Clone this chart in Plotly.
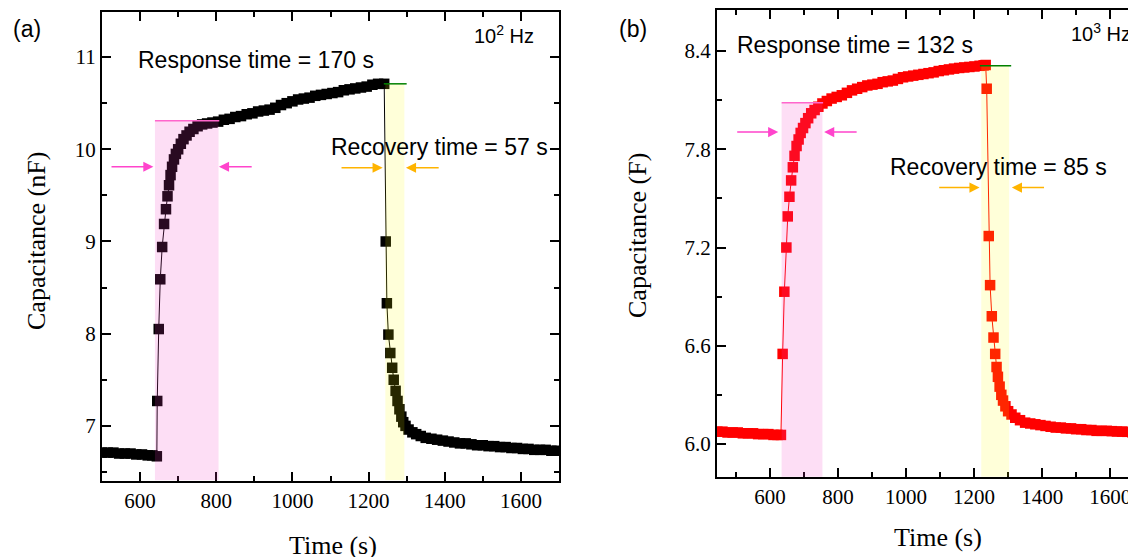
import plotly.graph_objects as go

# ---------------- data: panel (a), 10^2 Hz ----------------
t_a = [500, 515, 530, 545, 560, 575, 590, 605, 620, 632, 644,
       645, 649, 653, 658, 663, 668, 672, 676, 680, 684, 689, 694, 700, 707, 714, 722, 730, 740, 751, 763, 776, 790, 805,
       820, 835, 850, 865, 880, 895, 910, 925, 940, 955, 970, 985, 1000, 1015, 1030, 1045, 1060, 1075, 1090, 1105,
       1120, 1135, 1150, 1165, 1180, 1195, 1210, 1225, 1241,
       1245, 1248, 1252, 1257, 1262, 1266, 1271, 1276, 1281, 1286, 1291, 1297, 1305, 1315, 1325, 1337,
       1350, 1365, 1380, 1395, 1410, 1425, 1440, 1455, 1470, 1485, 1500, 1515, 1530, 1545, 1560, 1575,
       1590, 1605, 1620, 1635, 1650, 1665, 1680, 1695]
c_a = [6.71, 6.71, 6.71, 6.70, 6.70, 6.70, 6.69, 6.69, 6.68, 6.68, 6.67,
       7.27, 8.05, 8.59, 8.94, 9.19, 9.35, 9.49, 9.61, 9.72, 9.81, 9.89, 9.95, 10.00, 10.06, 10.11, 10.15, 10.19, 10.22, 10.25, 10.27, 10.28, 10.29, 10.30,
       10.32, 10.33, 10.35, 10.36, 10.38, 10.39, 10.41, 10.42, 10.43, 10.45, 10.48, 10.50, 10.52, 10.54, 10.55, 10.56, 10.58, 10.59, 10.60, 10.61,
       10.62, 10.64, 10.65, 10.66, 10.67, 10.68, 10.70, 10.71, 10.71,
       9.00, 8.33, 7.99, 7.79, 7.63, 7.50, 7.38, 7.27, 7.18, 7.10, 7.04, 7.00, 6.96, 6.93, 6.91, 6.89,
       6.87, 6.86, 6.85, 6.84, 6.83, 6.82, 6.81, 6.81, 6.80, 6.79, 6.79, 6.78, 6.78, 6.77, 6.77, 6.76,
       6.76, 6.75, 6.75, 6.74, 6.74, 6.74, 6.73, 6.73]

# ---------------- data: panel (b), 10^3 Hz ----------------
t_b = [445, 460, 475, 490, 505, 520, 535, 550, 565, 580, 595, 610, 622, 632,
       637, 642, 648, 652, 657, 662, 667, 672, 678, 684, 690, 697, 704, 712, 721, 731, 742, 754, 767, 781, 796, 811,
       826, 841, 856, 871, 886, 901, 916, 931, 946, 961, 976, 991, 1006, 1021, 1036, 1051, 1066, 1081, 1096, 1111,
       1126, 1141, 1156, 1171, 1186, 1201, 1216, 1228, 1234,
       1237, 1243, 1247, 1252, 1257, 1262, 1266, 1270, 1275, 1280, 1285, 1292, 1300, 1310, 1321, 1335,
       1350, 1365, 1380, 1395, 1410, 1425, 1440, 1455, 1470, 1485, 1500, 1515, 1530, 1545, 1560, 1575,
       1590, 1605, 1620, 1635, 1650, 1665, 1680]
c_b = [6.075, 6.075, 6.07, 6.07, 6.07, 6.065, 6.065, 6.065, 6.06, 6.06, 6.06, 6.055, 6.055, 6.055,
       6.55, 6.93, 7.20, 7.39, 7.51, 7.61, 7.69, 7.76, 7.82, 7.86, 7.90, 7.93, 7.96, 7.99, 8.02, 8.04, 8.06, 8.08, 8.095, 8.11, 8.12, 8.13,
       8.145, 8.16, 8.17, 8.18, 8.19, 8.195, 8.20, 8.21, 8.215, 8.22, 8.23, 8.24, 8.245, 8.25, 8.255, 8.26, 8.265, 8.27, 8.278, 8.283,
       8.288, 8.293, 8.297, 8.30, 8.303, 8.306, 8.31, 8.313, 8.315,
       8.17, 7.27, 6.97, 6.78, 6.65, 6.55, 6.47, 6.41, 6.35, 6.30, 6.265, 6.23, 6.20, 6.18, 6.16, 6.145,
       6.13, 6.125, 6.12, 6.115, 6.11, 6.105, 6.10, 6.10, 6.095, 6.095, 6.09, 6.09, 6.085, 6.085, 6.08, 6.08,
       6.08, 6.078, 6.076, 6.075, 6.074, 6.072, 6.07]

# response / recovery windows  [start, end, top level]
resp_a = [639, 806, 10.31]
reco_a = [1244, 1294, 10.71]
resp_b = [634, 754, 8.084]
reco_b = [1221, 1303, 8.31]

OFF = 8  # page body margin
W, H = 1136 - OFF, 557 - OFF
def px(x):
    return (x - OFF) / W
def py(y):
    return 1 - (y - OFF) / H

SERIF = "Liberation Serif, Times New Roman, serif"
SANS = "Liberation Sans, Arial, sans-serif"

fig = go.Figure()
fig.add_trace(go.Scatter(x=t_a, y=c_a, mode="lines+markers",
                         line=dict(color="black", width=1),
                         marker=dict(symbol="square", size=10.5, color="black"),
                         xaxis="x", yaxis="y"))
fig.add_trace(go.Scatter(x=t_b, y=c_b, mode="lines+markers",
                         line=dict(color="#ff0000", width=1),
                         marker=dict(symbol="square", size=10.5, color="#ff0000"),
                         xaxis="x2", yaxis="y2"))

axis_common = dict(showline=True, linewidth=2, linecolor="black", ticks="inside",
                   ticklen=9, tickwidth=1.5, tickcolor="black", showgrid=False, zeroline=False,
                   tickfont=dict(family=SERIF, size=21, color="black"))

fig.update_layout(
    width=W, height=H, margin=dict(l=0, r=0, t=0, b=0),
    paper_bgcolor="white", plot_bgcolor="white", showlegend=False,
    xaxis=dict(domain=[px(102), px(559)], range=[500, 1700], dtick=200, tick0=0, mirror="ticks",
               minor=dict(dtick=100, ticklen=5, tickwidth=1.5, ticks="inside", tickcolor="black"),
               anchor="y", **axis_common),
    yaxis=dict(domain=[py(481), py(12)], range=[6.402, 11.489], dtick=1, tick0=0, mirror="ticks",
               minor=dict(dtick=0.5, ticklen=5, tickwidth=1.5, ticks="inside", tickcolor="black"),
               anchor="x", **axis_common),
    xaxis2=dict(domain=[px(717), 1.0], range=[444, 1676], dtick=200, tick0=0, mirror="ticks",
                minor=dict(dtick=100, ticklen=5, tickwidth=1.5, ticks="inside", tickcolor="black"),
                anchor="y2", **axis_common),
    yaxis2=dict(domain=[py(477), py(10)], range=[5.798, 8.651], dtick=0.6, tick0=6.0, tickformat=".1f",
                minor=dict(dtick=0.3, ticklen=5, tickwidth=1.5, ticks="inside", tickcolor="black"),
                anchor="x2", **axis_common),
)

shapes = []
def windows(resp, reco, xr, yr, ybot):
    shapes.append(dict(type="rect", xref=xr, yref=yr, x0=resp[0], x1=resp[1], y0=ybot, y1=resp[2],
                       fillcolor="rgb(243,62,194)", opacity=0.17, line=dict(width=0), layer="above"))
    shapes.append(dict(type="rect", xref=xr, yref=yr, x0=reco[0], x1=reco[1], y0=ybot, y1=reco[2],
                       fillcolor="rgb(255,255,0)", opacity=0.15, line=dict(width=0), layer="above"))
    shapes.append(dict(type="line", xref=xr, yref=yr, x0=resp[0], x1=resp[1] + 2, y0=resp[2], y1=resp[2],
                       line=dict(color="#ff66cc", width=1.5), layer="above"))
    shapes.append(dict(type="line", xref=xr, yref=yr, x0=reco[0] - 4, x1=reco[1] + 6, y0=reco[2], y1=reco[2],
                       line=dict(color="#008000", width=1.5), layer="above"))

windows(resp_a, reco_a, "x", "y", 6.41)
windows(resp_b, reco_b, "x2", "y2", 5.80)
fig.update_layout(shapes=shapes)

ann = []
def arrow(xr, yr, tip, tail, y, color):
    ann.append(dict(xref=xr, yref=yr, axref=xr, ayref=yr, x=tip, y=y, ax=tail, ay=y, text="",
                    showarrow=True, arrowhead=2, arrowsize=1.35, arrowwidth=1.5, arrowcolor=color, standoff=0))

# panel (a) arrows
arrow("x", "y", 635, 521, 9.81, "#ff44cc")
arrow("x", "y", 807, 897, 9.81, "#ff44cc")
arrow("x", "y", 1237, 1125, 9.80, "#ffb400")
arrow("x", "y", 1298, 1388, 9.80, "#ffb400")
# panel (b) arrows
arrow("x2", "y2", 624, 499, 7.905, "#ff44cc")
arrow("x2", "y2", 759, 859, 7.905, "#ff44cc")
arrow("x2", "y2", 1216, 1093, 7.566, "#ffb400")
arrow("x2", "y2", 1311, 1410, 7.566, "#ffb400")

def txt(xr, yr, x, y, s, size, xanchor="left", family=SANS):
    ann.append(dict(xref=xr, yref=yr, x=x, y=y, text=s, showarrow=False, xanchor=xanchor, yanchor="middle",
                    font=dict(family=family, size=size, color="black")))

txt("x", "y", 590, 10.97, "Response time = 170 s", 23)
txt("x", "y", 1097, 10.03, "Recovery time = 57 s", 23)
txt("x", "y", 1640, 11.245, "10<sup>2</sup> Hz", 20, xanchor="right")
txt("x2", "y2", 498, 8.437, "Response time = 132 s", 23)
txt("x2", "y2", 948, 7.69, "Recovery time = 85 s", 23)
txt("x2", "y2", 1668, 8.516, "10<sup>3</sup> Hz", 20, xanchor="right")

# panel labels
txt("paper", "paper", px(27), py(29), "(a)", 23, xanchor="center")
txt("paper", "paper", px(633), py(29), "(b)", 23, xanchor="center")

# axis titles
def title(x, y, s, angle=0):
    ann.append(dict(xref="paper", yref="paper", x=px(x), y=py(y), text=s, showarrow=False,
                    xanchor="center", yanchor="middle", textangle=angle,
                    font=dict(family=SERIF, size=26, color="black")))

title(333, 545, "Time (s)")
title(938, 537, "Time (s)")
title(36, 241, "Capacitance (nF)", -90)
title(637, 236, "Capacitance (F)", -90)

fig.update_layout(annotations=ann)
fig.write_html("out.html")
